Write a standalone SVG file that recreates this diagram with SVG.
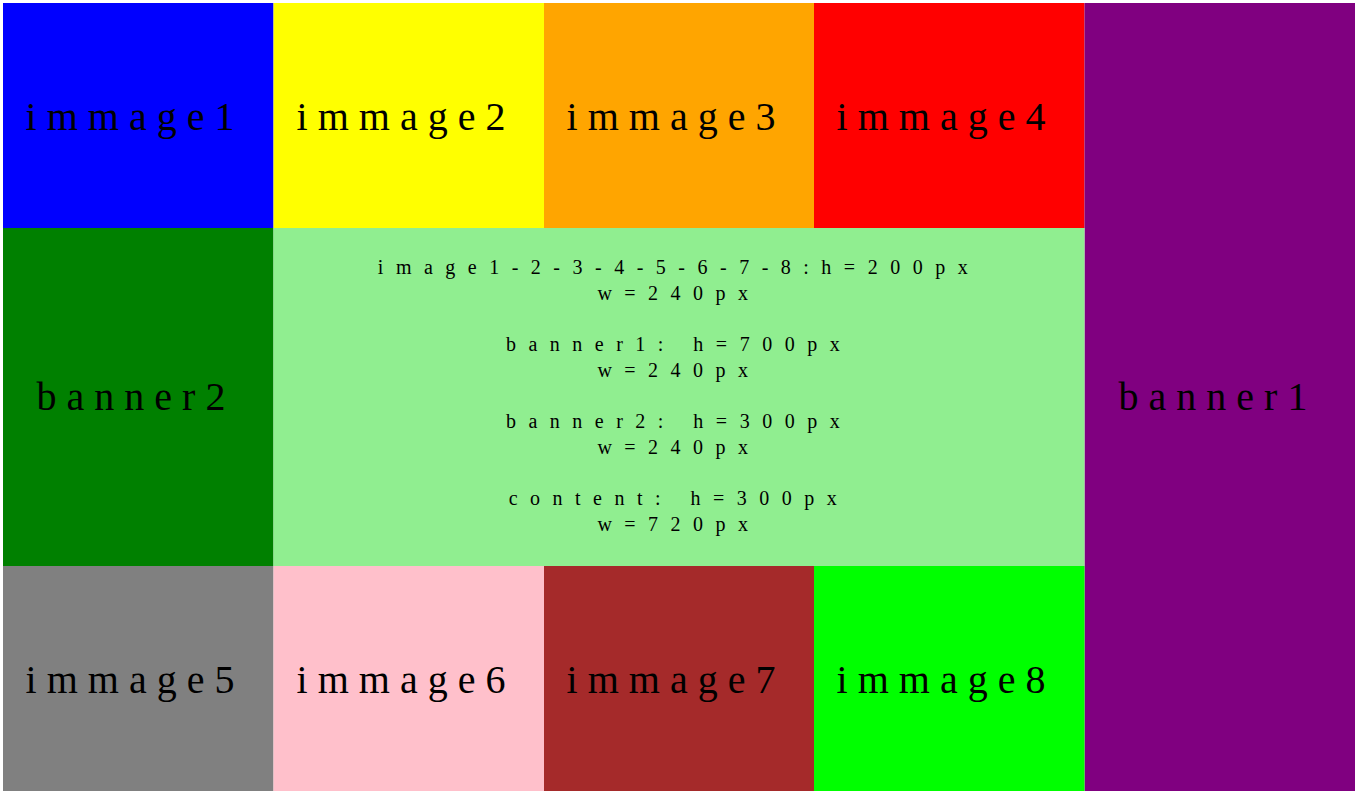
<svg xmlns="http://www.w3.org/2000/svg" width="1359" height="795" viewBox="0 0 1359 795">
<style>
.big{font-family:"Liberation Serif","Times New Roman",serif;font-size:40px;letter-spacing:10px;fill:#000;text-anchor:middle}
.small{font-family:"Liberation Serif","Times New Roman",serif;font-size:20px;letter-spacing:12.5px;fill:#000;text-anchor:middle}
</style>
<rect x="0" y="0" width="1359" height="795" fill="#fff"/>
<g id="image1"><rect x="3" y="3" width="270.5" height="225" fill="#0000ff"/><text class="big" x="135" y="130">immage1</text></g>
<g id="image2"><rect x="273.5" y="3" width="270.5" height="225" fill="#ffff00"/><text class="big" x="406" y="130">immage2</text></g>
<g id="image3"><rect x="544" y="3" width="270" height="225" fill="#ffa500"/><text class="big" x="676" y="130">immage3</text></g>
<g id="image4"><rect x="814" y="3" width="270.5" height="225" fill="#ff0000"/><text class="big" x="946" y="130">immage4</text></g>
<g id="banner1"><rect x="1084.5" y="3" width="270.5" height="788" fill="#800080"/><text class="big" x="1218" y="410">banner1</text></g>
<g id="banner2"><rect x="3" y="228" width="270.5" height="338" fill="#008000"/><text class="big" x="136" y="410">banner2</text></g>
<g id="content"><rect x="273.5" y="228" width="811" height="338" fill="#90ee90"/>
<text class="small" x="679" y="274">image1-2-3-4-5-6-7-8:h=200px</text>
<text class="small" x="679" y="300">w=240px</text>
<text class="small" x="679" y="351">banner1: h=700px</text>
<text class="small" x="679" y="377">w=240px</text>
<text class="small" x="679" y="428">banner2: h=300px</text>
<text class="small" x="679" y="454">w=240px</text>
<text class="small" x="679" y="505">content: h=300px</text>
<text class="small" x="679" y="531">w=720px</text>
</g>
<g id="image5"><rect x="3" y="566" width="270.5" height="225" fill="#808080"/><text class="big" x="135" y="693">immage5</text></g>
<g id="image6"><rect x="273.5" y="566" width="270.5" height="225" fill="#ffc0cb"/><text class="big" x="406" y="693">immage6</text></g>
<g id="image7"><rect x="544" y="566" width="270" height="225" fill="#a52a2a"/><text class="big" x="676" y="693">immage7</text></g>
<g id="image8"><rect x="814" y="566" width="270.5" height="225" fill="#00ff00"/><text class="big" x="946" y="693">immage8</text></g>
<g id="connectors"></g>
</svg>
